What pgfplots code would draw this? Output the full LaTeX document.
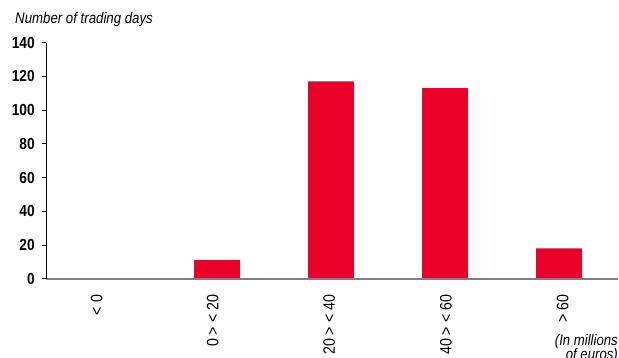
\documentclass[border=0pt]{standalone}
\usepackage{fontspec}
\usepackage{pgfplots}
\pgfplotsset{compat=1.18}
\setmainfont{Liberation Sans}
\newfontfamily\narrow[FakeStretch=0.86]{Liberation Sans}
\definecolor{barred}{RGB}{234,0,41}
\definecolor{axgray}{RGB}{128,128,128}
\begin{document}
\begin{tikzpicture}
\begin{axis}[
  scale only axis,
  width=572bp, height=236bp,
  xmin=-0.5, xmax=4.518,
  ymin=0, ymax=140,
  ytick={0,20,40,60,80,100,120,140},
  xtick={-0.055,0.962,1.985,3.009,4.033},
  xticklabels={{< 0},{0 > < 20},{20 > < 40},{40 > < 60},{> 60}},
  axis x line*=bottom,
  axis y line*=left,
  x axis line style={axgray, line width=1.6bp},
  y axis line style={black, line width=0.9bp},
  xtick style={draw=none},
  ytick style={black, line width=0.9bp},
  tick align=outside,
  major tick length=4bp,
  /pgf/number format/assume math mode=true,
  yticklabel style={font=\narrow\bfseries\fontsize{16bp}{18bp}\selectfont, inner sep=0pt, xshift=-7bp},
  xticklabel style={font=\narrow\fontsize{16.5bp}{18bp}\selectfont, inner sep=0pt, yshift=-12bp, rotate=90, anchor=east},
  ybar, bar width=0.4,
  axis on top,
]
\addplot[fill=barred, draw=none] coordinates {(0,0) (1,11) (2,117) (3,113) (4,18)};
\end{axis}
\node[anchor=base west, font=\narrow\itshape\fontsize{15.4bp}{17bp}\selectfont, inner sep=0pt]
  at ([xshift=-31bp, yshift=18.7bp]current axis.north west) {Number of trading days};
\node[anchor=base east, align=right, font=\narrow\itshape\fontsize{15.3bp}{14.5bp}\selectfont, inner sep=0pt]
  at ([yshift=-81bp]current axis.south east) {(In millions\\of euros)};
\pgfresetboundingbox
\path ([xshift=-46bp,yshift=-79.3bp]current axis.south west) rectangle ([xshift=1bp,yshift=42.7bp]current axis.north east);
\end{tikzpicture}
\end{document}
